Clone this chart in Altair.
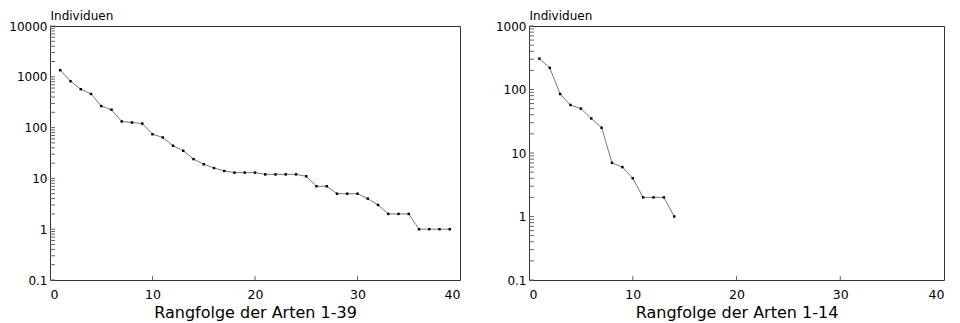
import altair as alt
import pandas as pd

# ---- data ----
left_ranks = list(range(1, 40))
left_counts = [1350, 820, 570, 460, 265, 225, 132, 126, 120, 74, 64, 44, 35,
               24, 19, 16, 14, 13, 13, 13, 12, 12, 12, 12, 11, 7, 7, 5, 5, 5,
               4, 3, 2, 2, 2, 1, 1, 1, 1]

right_ranks = list(range(1, 15))
right_counts = [307, 219, 85, 57, 50, 35, 25, 7, 6, 4, 2, 2, 2, 1]

x_tick_labels = [0, 10, 20, 30, 40]
x_inner_ticks = [10, 20, 30]
left_y_labels = [0.1, 1, 10, 100, 1000, 10000]
right_y_labels = [0.1, 1, 10, 100, 1000]
multipliers = [1, 2, 3, 4, 5, 6, 7, 8, 9]

left_title = "Rangfolge der Arten 1-39"
right_title = "Rangfolge der Arten 1-14"
y_title = "Individuen"

FONT = "DejaVu Sans"
H = 254


def minor_ticks(decades, top):
    vals = [d * m for d in decades for m in multipliers]
    return [v for v in vals if v <= top * 1.0001] + [top]


def panel(ranks, counts, ymax, ylabels, title, width):
    df = pd.DataFrame({"rank": ranks, "count": counts})
    xenc = alt.X(
        "rank:Q",
        scale=alt.Scale(domain=[0, 40], nice=False, zero=False),
        axis=alt.Axis(values=x_tick_labels, title=title, format="d",
                      labelPadding=8, titlePadding=4, labelFontSize=12.5),
    )
    yenc = alt.Y(
        "count:Q",
        scale=alt.Scale(type="log", domain=[0.1, ymax], nice=False),
        axis=alt.Axis(values=ylabels, format="~g", title=y_title,
                      titleAngle=0, titleX=0, titleY=-7, titleAlign="left",
                      titleBaseline="alphabetic", titleFontSize=12,
                      labelPadding=3, labelFontSize=12),
    )
    line = alt.Chart(df).mark_line(color="#555555", strokeWidth=0.8).encode(x=xenc, y=yenc)
    pts = alt.Chart(df).mark_square(size=6, color="black", opacity=1).encode(
        x="rank:Q", y="count:Q")

    decades = [d for d in left_y_labels if d < ymax]
    ytdf = pd.DataFrame({"count": minor_ticks(decades, ymax)})
    yt = alt.Chart(ytdf).mark_rule(color="#666666", strokeWidth=1).encode(
        y="count:Q", x=alt.value(0), x2=alt.value(5))
    xtdf = pd.DataFrame({"rank": x_inner_ticks})
    xt = alt.Chart(xtdf).mark_rule(color="#666666", strokeWidth=1).encode(
        x="rank:Q", y=alt.value(H), y2=alt.value(H - 4))
    return alt.layer(line, yt, xt, pts).properties(width=width, height=H)


left = panel(left_ranks, left_counts, 10000, left_y_labels, left_title, 410)
right = panel(right_ranks, right_counts, 1000, right_y_labels, right_title, 415)

chart = alt.hconcat(left, right, spacing=69, bounds="flush",
                    padding={"left": 0, "top": 0, "right": 0, "bottom": 0}).configure(
    background="white"
).configure_view(
    stroke="#333333", strokeWidth=1
).configure_axis(
    domain=False, ticks=False, grid=False,
    labelFont=FONT, labelColor="black",
    titleFont=FONT, titleFontSize=16, titleFontWeight="normal", titleColor="black",
)

chart.save("out.html", embed_options={"renderer": "svg", "actions": False})
